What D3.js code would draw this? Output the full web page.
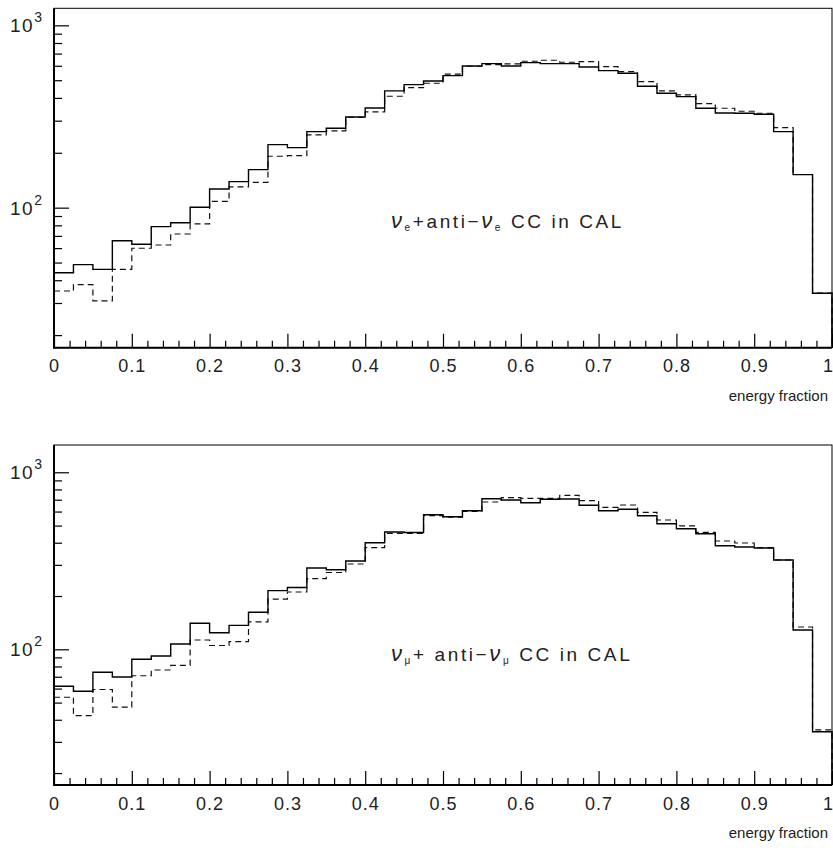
<!DOCTYPE html>
<html>
<head>
<meta charset="utf-8">
<script src="https://cdn.jsdelivr.net/npm/d3@7"></script>
<style>
  body { margin: 0; background: #fff; }
  svg text { font-family: "Liberation Sans", Arial, sans-serif; fill: #222; }
</style>
</head>
<body>
<div id="viz"></div>
<script>
// bin edges of the histograms: 40 bins between 0 and 1
var xMin = 0, xMax = 1, nBins = 40;

// nu_e + anti-nu_e CC in CAL (entries per bin)
var topSolid = [44.0, 48.7, 45.9, 65.9, 63.0, 78.7, 82.7, 100.5, 126.6, 138.9,
  161.6, 221.6, 213.4, 261.2, 272.6, 314.5, 352.3, 436.8, 473, 495.5,
  529.9, 598.7, 616.4, 598.7, 624.3, 616.4, 616.4, 591.2, 564.3, 546.0,
  463.5, 424.2, 406.4, 351.0, 330.7, 329.4, 325.3, 261.2, 151.7, 33.9];
var topDashed = [34.9, 37.8, 30.8, 45.9, 59.9, 62.4, 71.7, 81.4, 108.4, 129.9,
  137.8, 191.4, 192.9, 250.5, 263.5, 313.3, 335, 408.4, 455.3, 481.3,
  539.4, 596.4, 608.6, 614.1, 635.4, 643.4, 627.4, 632.2, 593.4, 557.2,
  491.1, 436.8, 415.2, 372, 351, 338, 329.4, 274.7, 152, 34];

// nu_mu + anti-nu_mu CC in CAL
var botSolid = [61.8, 57.9, 74.2, 69.8, 87.8, 91.6, 107.1, 140.3, 124.1, 136.6,
  161.8, 214.4, 223.5, 288, 281.3, 315.4, 400.2, 459.9, 457, 576,
  561.3, 606.8, 709.2, 697.4, 673.3, 703.8, 706.6, 651, 606.8, 618,
  568.6, 512.4, 480.2, 449.9, 384.8, 378.4, 373.5, 319.5, 128.5, 34.2];
var botDashed = [53.6, 42.2, 59.3, 47.1, 70.9, 76.4, 81.2, 112.9, 105.1, 110.4,
  142.7, 191.9, 210.7, 250.5, 271.6, 303.3, 375, 452.2, 452, 568.6,
  557, 602, 679.5, 718.6, 713, 713, 741.5, 691, 634.3, 653.6,
  594.3, 537.7, 497.4, 458.1, 409.2, 398.6, 375, 319.5, 133.7, 35.1];

// axis ranges
var topRange = [17.06, 1240];
var botRange = [17.12, 1426];
var xTickLabels = [0, 0.1, 0.2, 0.3, 0.4, 0.5, 0.6, 0.7, 0.8, 0.9, 1];
var yMajor = [100, 1000];
var xTitle = "energy fraction";

// titles, split into pieces for the greek letters and subscripts
var topTitle = [{t: "\u03bd", it: 1}, {t: "e", sub: 1}, {t: "+anti\u2212"}, {t: "\u03bd", it: 1}, {t: "e", sub: 1}, {t: " CC in CAL"}];
var botTitle = [{t: "\u03bd", it: 1}, {t: "\u03bc", sub: 1}, {t: "+ anti\u2212"}, {t: "\u03bd", it: 1}, {t: "\u03bc", sub: 1}, {t: " CC in CAL"}];

var width = 833, height = 848;
var left = 54, right = 832;

var svg = d3.select("#viz").append("svg")
    .attr("width", width)
    .attr("height", height);

var x = d3.scaleLinear().domain([xMin, xMax]).range([left, right]);
var edges = d3.range(nBins + 1).map(function(i) { return xMin + (xMax - xMin) * i / nBins; });

var panels = [
  {y0: 8.3, y1: 347.7, range: topRange, solid: topSolid, dashed: topDashed, title: topTitle, titleY: 228},
  {y0: 445, y1: 785, range: botRange, solid: botSolid, dashed: botDashed, title: botTitle, titleY: 661}
];

function stepPath(vals, y) {
  var p = d3.path();
  p.moveTo(x(edges[0]), y(vals[0]));
  vals.forEach(function(v, i) {
    if (i > 0) p.lineTo(x(edges[i]), y(v));
    p.lineTo(x(edges[i + 1]), y(v));
  });
  p.lineTo(x(edges[nBins]), y.range()[0]);
  return p.toString();
}

panels.forEach(function(pn) {
  var y = d3.scaleLog().domain(pn.range).range([pn.y1, pn.y0]);
  var g = svg.append("g");

  // histograms
  g.append("path")
    .attr("d", stepPath(pn.dashed, y))
    .attr("fill", "none")
    .attr("stroke", "#111")
    .attr("stroke-width", 1.2)
    .attr("stroke-dasharray", "6,4");
  g.append("path")
    .attr("d", stepPath(pn.solid, y))
    .attr("fill", "none")
    .attr("stroke", "#000")
    .attr("stroke-width", 1.4);

  // frame
  g.append("rect")
    .attr("x", left).attr("y", pn.y0)
    .attr("width", right - left).attr("height", pn.y1 - pn.y0)
    .attr("fill", "none").attr("stroke", "#000").attr("stroke-width", 1);
  g.append("path")
    .attr("d", "M" + left + "," + pn.y0 + "V" + pn.y1 + "H" + right)
    .attr("fill", "none").attr("stroke", "#000").attr("stroke-width", 2);

  // x axis ticks, pointing inward
  var xMinor = d3.range(0, 51).map(function(i) { return i / 50; })
    .filter(function(d) { return Math.round(d * 50) % 5 != 0; });
  var ax = g.append("g").attr("transform", "translate(0," + pn.y1 + ")");
  ax.call(d3.axisBottom(x).tickValues(xMinor).tickSize(-7).tickFormat(""));
  ax.append("g").call(d3.axisBottom(x).tickValues(xTickLabels).tickSize(-14).tickPadding(12).tickFormat(d3.format("~g")));
  ax.selectAll(".domain").remove();
  ax.selectAll("line").attr("stroke", "#000").attr("stroke-width", 1.2);
  ax.selectAll("text")
    .attr("font-size", 18)
    .attr("letter-spacing", "1px")
    .style("font-family", "'Liberation Sans', Arial, sans-serif")
    .attr("fill", "#222")
    .attr("dx", function(d) { return d == xMax ? -4 : 0; });

  g.append("text")
    .attr("x", right - 4)
    .attr("y", pn.y1 + 53)
    .attr("text-anchor", "end")
    .attr("font-size", 15)
    .text(xTitle);

  // y axis ticks
  var minor = [];
  [10, 100].forEach(function(dec) {
    d3.range(2, 10).forEach(function(k) {
      var v = dec * k;
      if (v > pn.range[0] && v < pn.range[1]) minor.push(v);
    });
  });
  var ay = g.append("g").attr("transform", "translate(" + left + ",0)");
  ay.call(d3.axisLeft(y).tickValues(minor).tickSize(-8).tickFormat(""));
  ay.append("g").call(d3.axisLeft(y).tickValues(yMajor).tickSize(-15).tickFormat(""));
  ay.selectAll(".domain").remove();
  ay.selectAll("line").attr("stroke", "#000").attr("stroke-width", 1.2);

  yMajor.forEach(function(v) {
    var t = g.append("text")
      .attr("x", 10)
      .attr("y", y(v) + 7)
      .attr("font-size", 19)
      .attr("letter-spacing", "1.5px");
    t.append("tspan").text("10");
    t.append("tspan").attr("dy", -10).attr("font-size", 14).text(Math.round(Math.log10(v)));
  });

  // title with greek letters
  var tt = g.append("text")
    .attr("x", 391)
    .attr("y", pn.titleY)
    .attr("font-size", 19)
    .attr("letter-spacing", "2.6px");
  var shift = 0;
  pn.title.forEach(function(p) {
    var s = tt.append("tspan").text(p.t);
    if (p.it) s.attr("font-style", "italic").attr("font-size", 22);
    if (p.sub) { s.attr("font-size", 10).attr("dy", 3); shift = 3; }
    else if (shift) { s.attr("dy", -shift); shift = 0; }
  });
});
</script>
</body>
</html>
